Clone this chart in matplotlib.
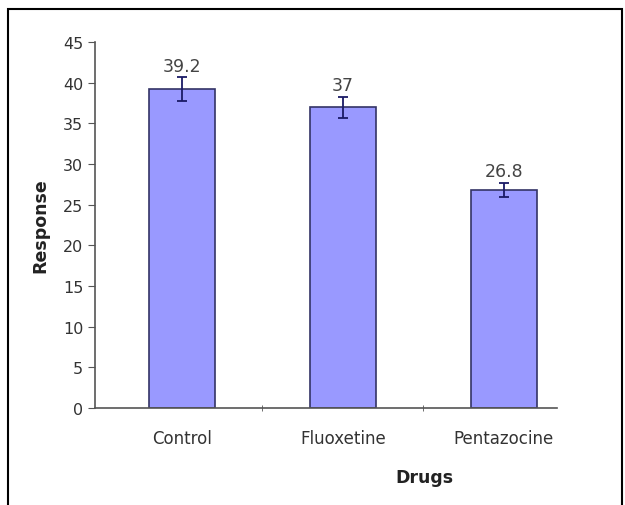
import matplotlib.pyplot as plt
import numpy as np

drugs = ['Control', 'Fluoxetine', 'Pentazocine']
response = [39.2, 37, 26.8]
errors = [1.5, 1.3, 0.9]
y_ticks = [0, 5, 10, 15, 20, 25, 30, 35, 40, 45]

fig = plt.figure(figsize=(6.25, 5.06), dpi=100)
ax = fig.add_axes([0.152, 0.1917, 0.739, 0.7233])

x = np.arange(len(drugs))
ax.bar(x, response, width=0.41, color='#9999ff', edgecolor='#333366', linewidth=1.2)
ax.errorbar(x, response, yerr=errors, fmt='none', ecolor='#1a1a66', elinewidth=1.3,
            capsize=3.5, capthick=1.3)

for xi, v, e in zip(x, response, errors):
    ax.text(xi, v + e + 0.3, f'{v:g}', ha='center', va='bottom', fontsize=12.5, color='#444444')

ax.set_ylim(0, 45)
ax.set_xlim(-0.54, 2.33)
ax.set_yticks(y_ticks)
ax.set_xticks(x)
ax.set_xticklabels(drugs)
ax.set_xticks([0.5, 1.5], minor=True)
ax.tick_params(axis='x', which='major', length=0, pad=15, labelsize=12, labelcolor='#333333')
ax.tick_params(axis='x', which='minor', length=5, direction='inout', color='#555555')
ax.tick_params(axis='y', length=5, direction='out', labelsize=11.5, labelcolor='#333333', color='#555555')

for side in ['top', 'right']:
    ax.spines[side].set_visible(False)
for side in ['left', 'bottom']:
    ax.spines[side].set_color('#555555')
    ax.spines[side].set_linewidth(1.2)

ax.set_ylabel('Response', fontsize=12.5, fontweight='bold', color='#222222', labelpad=10)
ax.set_xlabel('Drugs', fontsize=12.5, fontweight='bold', color='#222222')
ax.xaxis.set_label_coords(0.714, -0.163)

# outer frame like the pasted chart border
frame = plt.Rectangle((0.013, -0.01), 0.982, 0.99, transform=fig.transFigure,
                      fill=False, edgecolor='black', linewidth=1.5)
fig.patches.append(frame)

fig.savefig('out.png', dpi=100)
